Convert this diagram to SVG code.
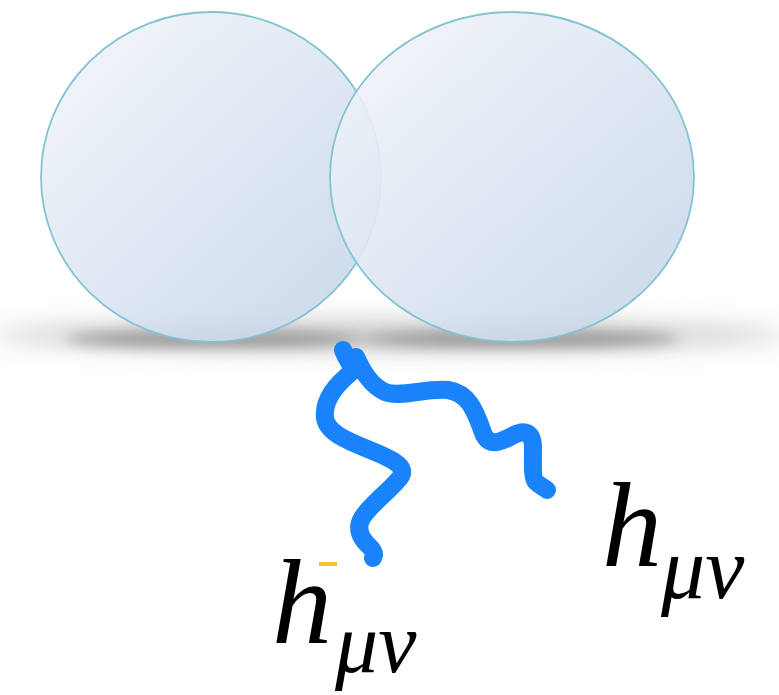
<svg xmlns="http://www.w3.org/2000/svg" width="779" height="695" viewBox="0 0 779 695">
<defs>
<linearGradient id="bub" x1="0" y1="0" x2="1" y2="1">
<stop offset="0" stop-color="#f5f7fb"/>
<stop offset="1" stop-color="#c3d4e8"/>
</linearGradient>
<filter id="blur" x="-20%" y="-200%" width="140%" height="500%"><feGaussianBlur stdDeviation="12"/></filter>
<filter id="blur2" x="-20%" y="-200%" width="140%" height="500%"><feGaussianBlur stdDeviation="7"/></filter>
<style>
.bubble{fill:url(#bub);fill-opacity:0.9;stroke:#82c3d3;stroke-width:1.8}
.wave{fill:none;stroke:#1983fb;stroke-width:18;stroke-linecap:round;stroke-linejoin:round}
.lbl{font-family:"Liberation Serif","DejaVu Serif",serif;font-style:italic;fill:#000}
</style>
</defs>
<g id="shadow">
<ellipse cx="390" cy="335" rx="400" ry="16" fill="#d0d0d0" filter="url(#blur)"/>
<ellipse cx="215" cy="339" rx="150" ry="8" fill="#959595" filter="url(#blur2)"/>
<ellipse cx="520" cy="339" rx="160" ry="8" fill="#959595" filter="url(#blur2)"/>
</g>
<g id="bubble-left"><ellipse class="bubble" cx="211" cy="177" rx="170" ry="165"/></g>
<g id="bubble-right"><ellipse class="bubble" cx="512" cy="177" rx="182" ry="165"/></g>
<g id="connectors">
<path class="wave" d="M343,350 C346,358 350,364 354,370 C335,385 323,400 325,418 C327,432 345,440 370,450 C395,460 410,468 398,480 C388,492 370,505 362,518 C355,530 362,540 370,547 C375,552 374,556 373,558"/>
<path class="wave" d="M356,357 C362,370 370,385 385,392 C400,398 425,388 448,390 C468,393 475,410 482,430 C487,446 497,444 510,437 C525,428 533,432 533,448 C533,462 532,478 536,482 C540,486 545,488 547,490"/>
</g>
<g id="label-left">
<rect x="319" y="562" width="18" height="4" fill="#f2c230"/>
<text class="lbl" x="272" y="643" font-size="120">h</text>
<text class="lbl" x="335" y="672" font-size="86">μν</text>
</g>
<g id="label-right">
<text class="lbl" x="602" y="566" font-size="120">h</text>
<text class="lbl" x="661" y="598" font-size="88">μν</text>
</g>
</svg>
